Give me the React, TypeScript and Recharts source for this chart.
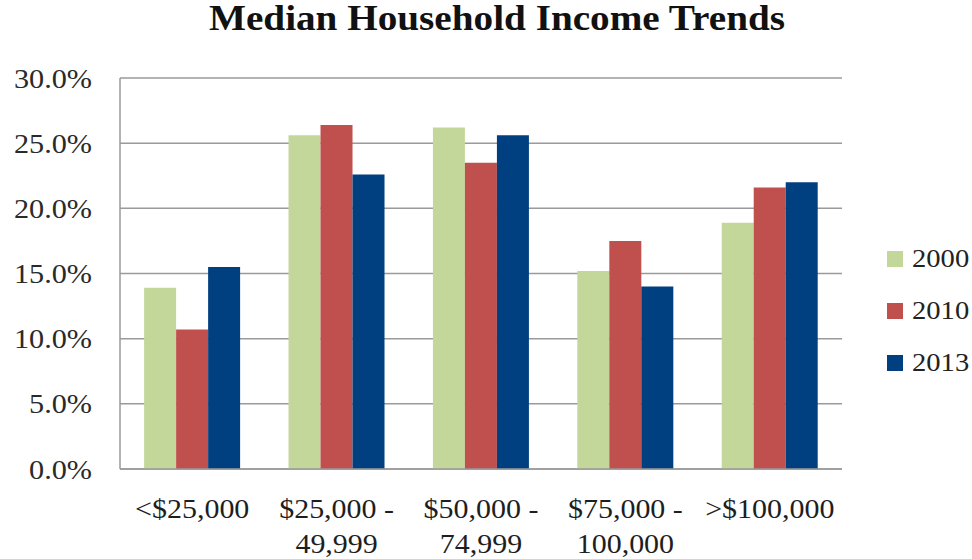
import React from "react";
import { BarChart, Bar, XAxis, YAxis, CartesianGrid, Legend } from "recharts";

const categories = ["<$25,000", "$25,000 -\n49,999", "$50,000 -\n74,999", "$75,000 -\n100,000", ">$100,000"];
const values2000 = [13.9, 25.6, 26.2, 15.2, 18.9];
const values2010 = [10.7, 26.4, 23.5, 17.5, 21.6];
const values2013 = [15.5, 22.6, 25.6, 14.0, 22.0];
const yTicks = [0, 5, 10, 15, 20, 25, 30];

const data = categories.map((name, i) => ({
  name,
  y2000: values2000[i],
  y2010: values2010[i],
  y2013: values2013[i],
}));

const FONT = "'Liberation Serif', 'DejaVu Serif', serif";
const GRID = "#9a9a9a";

// x labels: two lines, slightly widened to get closer to the Garamond look
const CategoryTick = (props: any) => {
  const { x, y, payload } = props;
  const lines = String(payload.value).split("\n");
  return (
    <g transform={`translate(${x},${y})`}>
      <text transform="scale(1.11,1)" textAnchor="middle" fill="#1e1e1e" fontFamily={FONT} fontSize={27}>
        {lines.map((line, i) => (
          <tspan key={i} x={0} dy={i === 0 ? 41 : 35}>
            {line}
          </tspan>
        ))}
      </text>
    </g>
  );
};

const PercentTick = (props: any) => {
  const { x, y, payload } = props;
  return (
    <g transform={`translate(${x},${y})`}>
      <text transform="scale(1.08,1)" textAnchor="end" dy="0.34em" fill="#2a2a2a" fontFamily={FONT} fontSize={28}>
        {`${Number(payload.value).toFixed(1)}%`}
      </text>
    </g>
  );
};

const LegendBox = (props: any) => {
  const { payload } = props;
  return (
    <div style={{ width: 87, fontFamily: FONT }}>
      {(payload || []).map((entry: any) => (
        <div
          key={entry.value}
          style={{ display: "flex", alignItems: "center", height: 52, fontSize: 26, color: "#222" }}
        >
          <div style={{ width: 16, height: 16, background: entry.color, marginRight: 9 }} />
          <span style={{ display: "inline-block", transform: "scaleX(1.1)", transformOrigin: "left center" }}>
            {entry.value}
          </span>
        </div>
      ))}
    </div>
  );
};

export default function App() {
  return (
    <div style={{ position: "absolute", left: 0, top: 0, width: 972, height: 559, background: "#fff" }}>
      <div
        style={{
          position: "absolute",
          left: 0,
          top: -1,
          width: 994,
          textAlign: "center",
          fontFamily: FONT,
          fontWeight: "bold",
          fontSize: 35,
          color: "#111",
          transform: "scaleX(1.12)",
          transformOrigin: "497px 0",
        }}
      >
        Median Household Income Trends
      </div>
      <BarChart
        width={972}
        height={559}
        data={data}
        margin={{ top: 78, right: 43, left: 0, bottom: 0 }}
        barCategoryGap="16.7%"
        barGap={0}
      >
        <CartesianGrid vertical={false} stroke={GRID} strokeWidth={1.5} />
        <XAxis
          dataKey="name"
          height={90}
          interval={0}
          tickLine={false}
          axisLine={{ stroke: GRID, strokeWidth: 1.5 }}
          tick={<CategoryTick />}
        />
        <YAxis
          width={120}
          domain={[0, 30]}
          ticks={yTicks}
          tickLine={false}
          tickMargin={22}
          axisLine={{ stroke: GRID, strokeWidth: 1.5 }}
          tick={<PercentTick />}
        />
        <Legend
          layout="vertical"
          align="right"
          verticalAlign="middle"
          content={<LegendBox />}
          wrapperStyle={{ left: 887, right: "auto", top: 233 }}
        />
        <Bar dataKey="y2000" name="2000" fill="#C4D79B" isAnimationActive={false} />
        <Bar dataKey="y2010" name="2010" fill="#C0504D" isAnimationActive={false} />
        <Bar dataKey="y2013" name="2013" fill="#004080" isAnimationActive={false} />
      </BarChart>
    </div>
  );
}
